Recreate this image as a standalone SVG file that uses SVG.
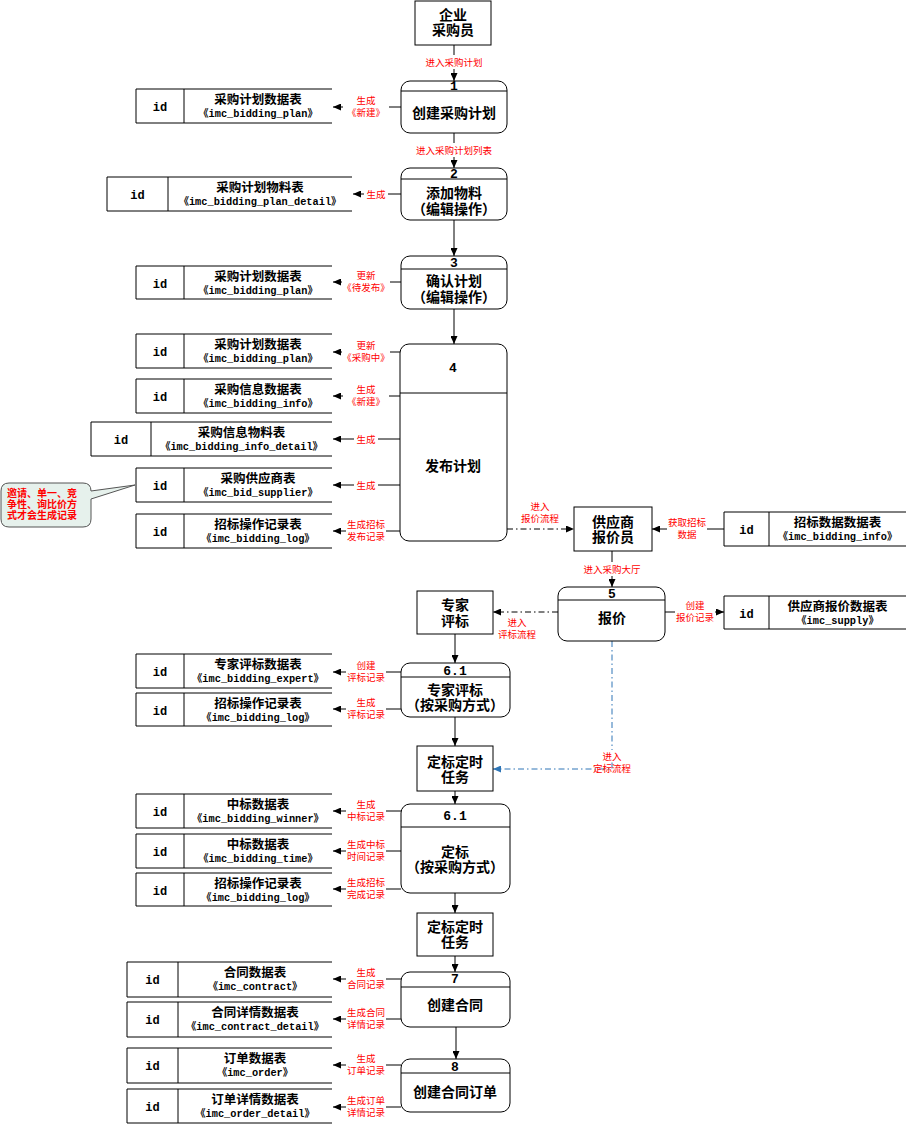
<svg xmlns="http://www.w3.org/2000/svg" width="906" height="1124" viewBox="0 0 906 1124">
<defs>
<style>
.bx{fill:#fff;stroke:#000;stroke-width:1}
.dv{stroke:#000;stroke-width:1}
.ds path{fill:none;stroke:#000;stroke-width:1}
.cn{stroke:#000;stroke-width:1;fill:none}
.dd{stroke-dasharray:6 3 1.5 3}
.blue{stroke:#2e75b6}
.bg{fill:#fff}
text{font-family:"Noto Sans CJK SC","Noto Sans",sans-serif}
.t{font-size:14px;font-weight:bold;text-anchor:middle}
.n{font-family:"Liberation Mono","Noto Sans CJK SC",monospace;font-size:13px;font-weight:bold;text-anchor:middle}
.nm{font-size:12.5px;font-weight:bold;text-anchor:middle}
.tb{font-family:"Liberation Mono","Noto Sans CJK SC",monospace;font-size:10.3px;font-weight:bold;text-anchor:middle}
.id{font-family:"Liberation Mono",monospace;font-size:12px;font-weight:bold;text-anchor:middle}
.r{font-size:9.5px;fill:#ff0000;text-anchor:middle}
.cl{font-size:10px;font-weight:bold;fill:#ff0000}
</style>
<marker id="ah" markerWidth="8" markerHeight="7" refX="8" refY="3.5" orient="auto" markerUnits="userSpaceOnUse"><path d="M0,0 L8,3.5 L0,7 z" fill="#000"/></marker>
<marker id="ahb" markerWidth="8" markerHeight="7" refX="8" refY="3.5" orient="auto" markerUnits="userSpaceOnUse"><path d="M0,0 L8,3.5 L0,7 z" fill="#2e75b6"/></marker>
</defs>
<rect width="906" height="1124" fill="#fff"/>

<g id="connectors">
<line class="cn" x1="454" y1="45" x2="454" y2="81" marker-end="url(#ah)"/>
<line class="cn" x1="454" y1="133" x2="454" y2="168" marker-end="url(#ah)"/>
<line class="cn" x1="454" y1="220" x2="454" y2="256" marker-end="url(#ah)"/>
<line class="cn" x1="454" y1="309" x2="454" y2="344" marker-end="url(#ah)"/>
<line class="cn" x1="612" y1="551" x2="612" y2="587" marker-end="url(#ah)"/>
<line class="cn" x1="455" y1="634" x2="455" y2="663" marker-end="url(#ah)"/>
<line class="cn" x1="455" y1="717" x2="455" y2="746" marker-end="url(#ah)"/>
<line class="cn" x1="455" y1="791" x2="455" y2="804" marker-end="url(#ah)"/>
<line class="cn" x1="455" y1="893" x2="455" y2="913" marker-end="url(#ah)"/>
<line class="cn" x1="455" y1="956" x2="455" y2="972" marker-end="url(#ah)"/>
<line class="cn" x1="456" y1="1027" x2="456" y2="1059" marker-end="url(#ah)"/>

<line class="cn" x1="401" y1="107" x2="333" y2="107" marker-end="url(#ah)"/>
<line class="cn" x1="401" y1="194" x2="353" y2="194" marker-end="url(#ah)"/>
<line class="cn" x1="401" y1="282" x2="333" y2="282" marker-end="url(#ah)"/>
<line class="cn" x1="400" y1="352" x2="333" y2="352" marker-end="url(#ah)"/>
<line class="cn" x1="400" y1="396" x2="333" y2="396" marker-end="url(#ah)"/>
<line class="cn" x1="400" y1="439" x2="333" y2="439" marker-end="url(#ah)"/>
<line class="cn" x1="400" y1="485" x2="333" y2="485" marker-end="url(#ah)"/>
<line class="cn" x1="400" y1="531" x2="333" y2="531" marker-end="url(#ah)"/>
<line class="cn" x1="401" y1="672" x2="333" y2="672" marker-end="url(#ah)"/>
<line class="cn" x1="401" y1="709" x2="333" y2="709" marker-end="url(#ah)"/>
<line class="cn" x1="401" y1="811" x2="333" y2="811" marker-end="url(#ah)"/>
<line class="cn" x1="401" y1="851" x2="333" y2="851" marker-end="url(#ah)"/>
<line class="cn" x1="401" y1="889" x2="333" y2="889" marker-end="url(#ah)"/>
<line class="cn" x1="401" y1="979" x2="333" y2="979" marker-end="url(#ah)"/>
<line class="cn" x1="401" y1="1019" x2="333" y2="1019" marker-end="url(#ah)"/>
<line class="cn" x1="401" y1="1065" x2="333" y2="1065" marker-end="url(#ah)"/>
<line class="cn" x1="401" y1="1107" x2="333" y2="1107" marker-end="url(#ah)"/>
<line class="cn" x1="724" y1="529" x2="652" y2="529" marker-end="url(#ah)"/>
<line class="cn" x1="665" y1="612" x2="724" y2="612" marker-end="url(#ah)"/>

<line class="cn dd" x1="507" y1="529" x2="574" y2="529" marker-end="url(#ah)"/>
<line class="cn dd" x1="558" y1="612" x2="493" y2="612" marker-end="url(#ah)"/>
<path class="cn dd blue" d="M612,641 V769 H493" marker-end="url(#ahb)"/>
<path d="M9,483 H83 Q91,483 91,491 L135,485 L91,499 V519 Q91,527 83,527 H9 Q1,527 1,519 V491 Q1,483 9,483 Z" fill="#e6f1ec" stroke="#555" stroke-width="1"/>
</g>

<g id="labels">
<rect class="bg" x="423" y="55" width="62" height="14"/>
<text class="r" x="454" y="65.5">进入采购计划</text>
<rect class="bg" x="415" y="143" width="78" height="14"/>
<text class="r" x="454" y="153.5">进入采购计划列表</text>
<rect class="bg" x="581" y="562" width="62" height="14"/>
<text class="r" x="612" y="572.5">进入采购大厅</text>

<rect class="bg" x="343" y="95" width="46" height="24"/>
<text class="r" x="366" y="104">生成</text><text class="r" x="366" y="116">《新建》</text>
<rect class="bg" x="364" y="188" width="24" height="12"/>
<text class="r" x="376" y="197.5">生成</text>
<rect class="bg" x="342" y="270" width="48" height="24"/>
<text class="r" x="366" y="279">更新</text><text class="r" x="366" y="291">《待发布》</text>
<rect class="bg" x="342" y="340" width="48" height="24"/>
<text class="r" x="366" y="349">更新</text><text class="r" x="366" y="361">《采购中》</text>
<rect class="bg" x="343" y="384" width="46" height="24"/>
<text class="r" x="366" y="393">生成</text><text class="r" x="366" y="405">《新建》</text>
<rect class="bg" x="354" y="433" width="24" height="12"/>
<text class="r" x="366" y="442.5">生成</text>
<rect class="bg" x="354" y="479" width="24" height="12"/>
<text class="r" x="366" y="488.5">生成</text>
<rect class="bg" x="346" y="519" width="40" height="24"/>
<text class="r" x="366" y="528">生成招标</text><text class="r" x="366" y="540">发布记录</text>
<rect class="bg" x="346" y="660" width="40" height="24"/>
<text class="r" x="366" y="669">创建</text><text class="r" x="366" y="681">评标记录</text>
<rect class="bg" x="346" y="697" width="40" height="24"/>
<text class="r" x="366" y="706">生成</text><text class="r" x="366" y="718">评标记录</text>
<rect class="bg" x="346" y="799" width="40" height="24"/>
<text class="r" x="366" y="808">生成</text><text class="r" x="366" y="820">中标记录</text>
<rect class="bg" x="346" y="839" width="40" height="24"/>
<text class="r" x="366" y="848">生成中标</text><text class="r" x="366" y="860">时间记录</text>
<rect class="bg" x="346" y="877" width="40" height="24"/>
<text class="r" x="366" y="886">生成招标</text><text class="r" x="366" y="898">完成记录</text>
<rect class="bg" x="346" y="967" width="40" height="24"/>
<text class="r" x="366" y="976">生成</text><text class="r" x="366" y="988">合同记录</text>
<rect class="bg" x="346" y="1007" width="40" height="24"/>
<text class="r" x="366" y="1016">生成合同</text><text class="r" x="366" y="1028">详情记录</text>
<rect class="bg" x="346" y="1053" width="40" height="24"/>
<text class="r" x="366" y="1062">生成</text><text class="r" x="366" y="1074">订单记录</text>
<rect class="bg" x="346" y="1095" width="40" height="24"/>
<text class="r" x="366" y="1104">生成订单</text><text class="r" x="366" y="1116">详情记录</text>
<rect class="bg" x="667" y="517" width="40" height="24"/>
<text class="r" x="687" y="526">获取招标</text><text class="r" x="687" y="538">数据</text>
<rect class="bg" x="675" y="600" width="40" height="24"/>
<text class="r" x="695" y="609">创建</text><text class="r" x="695" y="621">报价记录</text>

<text class="r" x="540" y="510">进入</text><text class="r" x="540" y="522">报价流程</text>
<text class="r" x="517" y="626">进入</text><text class="r" x="517" y="638">评标流程</text>
<rect class="bg" x="599" y="750" width="26" height="12"/>
<text class="r" x="612" y="760">进入</text><text class="r" x="612" y="772">定标流程</text>

<text class="cl" x="7" y="497">邀请、单一、竞</text>
<text class="cl" x="7" y="508">争性、询比价方</text>
<text class="cl" x="7" y="519">式才会生成记录</text>
</g>

<g id="e-buyer"><rect class="bx" x="415" y="1" width="76" height="44"/><text class="t" x="453" y="20">企业</text><text class="t" x="453" y="35">采购员</text></g>
<g id="e-supplier"><rect class="bx" x="574" y="507" width="78" height="44"/><text class="t" x="613" y="527">供应商</text><text class="t" x="613" y="542">报价员</text></g>
<g id="e-expert"><rect class="bx" x="417" y="591" width="76" height="43"/><text class="t" x="455" y="610">专家</text><text class="t" x="455" y="626">评标</text></g>
<g id="e-timer1"><rect class="bx" x="417" y="746" width="76" height="45"/><text class="t" x="455" y="767">定标定时</text><text class="t" x="455" y="782">任务</text></g>
<g id="e-timer2"><rect class="bx" x="417" y="913" width="76" height="43"/><text class="t" x="455" y="932">定标定时</text><text class="t" x="455" y="947">任务</text></g>

<g id="p1"><rect class="bx" x="401" y="81" width="106" height="52" rx="9"/><line class="dv" x1="401" y1="91" x2="507" y2="91"/><text class="n" x="454" y="90">1</text><text class="t" x="454" y="118">创建采购计划</text></g>
<g id="p2"><rect class="bx" x="401" y="168" width="106" height="52" rx="9"/><line class="dv" x1="401" y1="179" x2="507" y2="179"/><text class="n" x="454" y="178">2</text><text class="t" x="454" y="198">添加物料</text><text class="t" x="454" y="213.5">（编辑操作）</text></g>
<g id="p3"><rect class="bx" x="401" y="256" width="106" height="53" rx="9"/><line class="dv" x1="401" y1="269" x2="507" y2="269"/><text class="n" x="454" y="267">3</text><text class="t" x="454" y="286">确认计划</text><text class="t" x="454" y="302">（编辑操作）</text></g>
<g id="p4"><rect class="bx" x="400" y="344" width="107" height="197" rx="9"/><line class="dv" x1="400" y1="393" x2="507" y2="393"/><text class="n" x="453" y="372">4</text><text class="t" x="453" y="471">发布计划</text></g>
<g id="p5"><rect class="bx" x="558" y="587" width="107" height="54" rx="9"/><line class="dv" x1="558" y1="600" x2="665" y2="600"/><text class="n" x="612" y="598">5</text><text class="t" x="612" y="623">报价</text></g>
<g id="p61a"><rect class="bx" x="401" y="663" width="109" height="54" rx="9"/><line class="dv" x1="401" y1="677" x2="510" y2="677"/><text class="n" x="455" y="675">6.1</text><text class="t" x="455" y="695">专家评标</text><text class="t" x="455" y="710">（按采购方式）</text></g>
<g id="p61b"><rect class="bx" x="401" y="804" width="109" height="89" rx="9"/><line class="dv" x1="401" y1="827" x2="510" y2="827"/><text class="n" x="455" y="820">6.1</text><text class="t" x="455" y="857">定标</text><text class="t" x="455" y="872">（按采购方式）</text></g>
<g id="p7"><rect class="bx" x="401" y="972" width="109" height="55" rx="9"/><line class="dv" x1="401" y1="987" x2="510" y2="987"/><text class="n" x="455" y="983">7</text><text class="t" x="455" y="1010">创建合同</text></g>
<g id="p8"><rect class="bx" x="401" y="1059" width="109" height="53" rx="9"/><line class="dv" x1="401" y1="1073" x2="510" y2="1073"/><text class="n" x="455" y="1071">8</text><text class="t" x="455" y="1097">创建合同订单</text></g>

<g id="ds1" class="ds"><path d="M332,89 H136 V123 H332 M184,89 V123"/><text class="id" x="160" y="110.5">id</text><text class="nm" x="258" y="103.5">采购计划数据表</text><text class="tb" x="258" y="116.5">《imc_bidding_plan》</text></g>
<g id="ds2" class="ds"><path d="M352,177 H107 V211 H352 M168,177 V211"/><text class="id" x="137.5" y="198.5">id</text><text class="nm" x="260" y="191.5">采购计划物料表</text><text class="tb" x="260" y="204.5">《imc_bidding_plan_detail》</text></g>
<g id="ds3" class="ds"><path d="M332,266 H136 V299 H332 M184,266 V299"/><text class="id" x="160" y="287.5">id</text><text class="nm" x="258" y="280.5">采购计划数据表</text><text class="tb" x="258" y="293.5">《imc_bidding_plan》</text></g>
<g id="ds4a" class="ds"><path d="M332,334 H136 V368 H332 M184,334 V368"/><text class="id" x="160" y="355.5">id</text><text class="nm" x="258" y="348.5">采购计划数据表</text><text class="tb" x="258" y="361.5">《imc_bidding_plan》</text></g>
<g id="ds4b" class="ds"><path d="M332,379 H136 V413 H332 M184,379 V413"/><text class="id" x="160" y="400.5">id</text><text class="nm" x="258" y="393.5">采购信息数据表</text><text class="tb" x="258" y="406.5">《imc_bidding_info》</text></g>
<g id="ds4c" class="ds"><path d="M332,422 H91 V456 H332 M151,422 V456"/><text class="id" x="121" y="443.5">id</text><text class="nm" x="241.5" y="436.5">采购信息物料表</text><text class="tb" x="241.5" y="449.5">《imc_bidding_info_detail》</text></g>
<g id="ds4d" class="ds"><path d="M332,468 H136 V502 H332 M184,468 V502"/><text class="id" x="160" y="489.5">id</text><text class="nm" x="258" y="482.5">采购供应商表</text><text class="tb" x="258" y="495.5">《imc_bid_supplier》</text></g>
<g id="ds4e" class="ds"><path d="M332,514 H136 V548 H332 M184,514 V548"/><text class="id" x="160" y="535.5">id</text><text class="nm" x="258" y="528.5">招标操作记录表</text><text class="tb" x="258" y="541.5">《imc_bidding_log》</text></g>
<g id="ds6a" class="ds"><path d="M332,654 H136 V688 H332 M184,654 V688"/><text class="id" x="160" y="675.5">id</text><text class="nm" x="258" y="668.5">专家评标数据表</text><text class="tb" x="258" y="681.5">《imc_bidding_expert》</text></g>
<g id="ds6b" class="ds"><path d="M332,693 H136 V726 H332 M184,693 V726"/><text class="id" x="160" y="714.5">id</text><text class="nm" x="258" y="707.5">招标操作记录表</text><text class="tb" x="258" y="720.5">《imc_bidding_log》</text></g>
<g id="ds7a" class="ds"><path d="M332,794 H136 V828 H332 M184,794 V828"/><text class="id" x="160" y="815.5">id</text><text class="nm" x="258" y="808.5">中标数据表</text><text class="tb" x="258" y="821.5">《imc_bidding_winner》</text></g>
<g id="ds7b" class="ds"><path d="M332,834 H136 V868 H332 M184,834 V868"/><text class="id" x="160" y="855.5">id</text><text class="nm" x="258" y="848.5">中标数据表</text><text class="tb" x="258" y="861.5">《imc_bidding_time》</text></g>
<g id="ds7c" class="ds"><path d="M332,873 H136 V906 H332 M184,873 V906"/><text class="id" x="160" y="894.5">id</text><text class="nm" x="258" y="887.5">招标操作记录表</text><text class="tb" x="258" y="900.5">《imc_bidding_log》</text></g>
<g id="ds8a" class="ds"><path d="M332,962 H127 V997 H332 M178,962 V997"/><text class="id" x="152.5" y="983.5">id</text><text class="nm" x="255" y="976.5">合同数据表</text><text class="tb" x="255" y="989.5">《imc_contract》</text></g>
<g id="ds8b" class="ds"><path d="M332,1002 H127 V1037 H332 M178,1002 V1037"/><text class="id" x="152.5" y="1023.5">id</text><text class="nm" x="255" y="1016.5">合同详情数据表</text><text class="tb" x="255" y="1029.5">《imc_contract_detail》</text></g>
<g id="ds8c" class="ds"><path d="M332,1048 H127 V1083 H332 M178,1048 V1083"/><text class="id" x="152.5" y="1069.5">id</text><text class="nm" x="255" y="1062.5">订单数据表</text><text class="tb" x="255" y="1075.5">《imc_order》</text></g>
<g id="ds8d" class="ds"><path d="M332,1089 H127 V1123 H332 M178,1089 V1123"/><text class="id" x="152.5" y="1110.5">id</text><text class="nm" x="255" y="1103.5">订单详情数据表</text><text class="tb" x="255" y="1116.5">《imc_order_detail》</text></g>
<g id="dsr1" class="ds"><path d="M906,512 H724 V546 H906 M769,512 V546"/><text class="id" x="746.5" y="533.5">id</text><text class="nm" x="837.5" y="526.5">招标数据数据表</text><text class="tb" x="837.5" y="539.5">《imc_bidding_info》</text></g>
<g id="dsr2" class="ds"><path d="M906,596 H724 V629 H906 M769,596 V629"/><text class="id" x="746.5" y="617.5">id</text><text class="nm" x="837.5" y="610.5">供应商报价数据表</text><text class="tb" x="837.5" y="623.5">《imc_supply》</text></g>
</svg>
